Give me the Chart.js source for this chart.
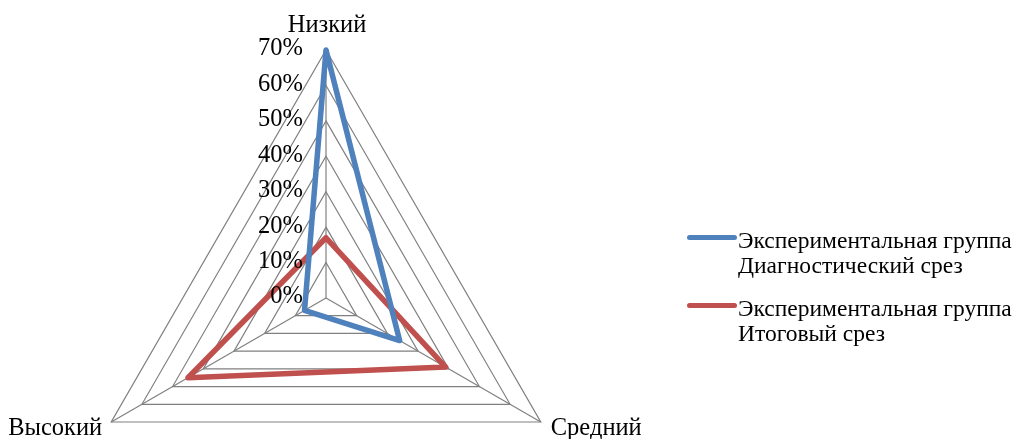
<!DOCTYPE html>
<html>
<head>
<meta charset="utf-8">
<script src="https://cdn.jsdelivr.net/npm/chart.js@4/dist/chart.umd.min.js"></script>
<style>
html,body{margin:0;padding:0;background:#fff;overflow:hidden;}
#wrap{position:relative;width:1021px;height:439px;overflow:hidden;background:#fff;}
#c{position:absolute;left:0;top:0;}
.item{position:absolute;left:687px;font-family:"Liberation Serif","Times New Roman",serif;font-size:23.5px;line-height:25px;color:#000;white-space:nowrap;}
.sw{position:absolute;left:0;top:7px;width:50px;height:5px;border-radius:3px;}
.txt{position:absolute;left:51px;top:0;}
</style>
</head>
<body>
<div id="wrap">
<canvas id="c" width="1021" height="600"></canvas>
</div>
<script>
const categories = ['Низкий', 'Средний', 'Высокий'];
const diagnostic = [70, 24, 7];
const finalCut = [17, 39, 45];
const seriesNames = [
  ['Экспериментальная группа', 'Диагностический срез'],
  ['Экспериментальная группа', 'Итоговый срез']
];
const seriesColors = ['#4F81BD', '#C0504D'];
const tickValues = [0, 10, 20, 30, 40, 50, 60, 70];
const tickLabels = ['0%', '10%', '20%', '30%', '40%', '50%', '60%', '70%'];

const FONT = '24.5px "Liberation Serif", "Times New Roman", serif';

const labelPlugin = {
  id: 'customLabels',
  afterDraw(chart) {
    const s = chart.scales.r;
    const ctx = chart.ctx;
    ctx.save();
    ctx.font = FONT;
    ctx.fillStyle = '#000';
    // tick labels
    ctx.textAlign = 'right';
    ctx.textBaseline = 'middle';
    tickValues.forEach((v, i) => {
      const d = s.getDistanceFromCenterForValue(v);
      ctx.fillText(tickLabels[i], s.xCenter - 23, s.yCenter - d - 1);
    });
    // point labels
    ctx.textBaseline = 'alphabetic';
    categories.forEach((c, i) => {
      const p = s.getPointPosition(i, s.drawingArea);
      if (i === 0) {
        ctx.textAlign = 'center';
        ctx.fillText(c, p.x + 1, p.y - 18);
      } else if (p.x > s.xCenter) {
        ctx.textAlign = 'left';
        ctx.fillText(c, p.x + 10, p.y + 13);
      } else {
        ctx.textAlign = 'right';
        ctx.fillText(c, p.x - 9, p.y + 13);
      }
    });
    ctx.restore();
  }
};

new Chart(document.getElementById('c'), {
  type: 'radar',
  data: {
    labels: categories,
    datasets: [
      { label: seriesNames[0].join(' '), data: diagnostic, borderColor: seriesColors[0], backgroundColor: seriesColors[0] },
      { label: seriesNames[1].join(' '), data: finalCut, borderColor: seriesColors[1], backgroundColor: seriesColors[1] }
    ]
  },
  options: {
    responsive: false,
    devicePixelRatio: 1,
    animation: false,
    layout: { padding: { left: 78, top: 50, right: 447, bottom: 54 } },
    elements: {
      line: { borderWidth: 5.5, fill: false, tension: 0, borderJoinStyle: 'round' },
      point: { radius: 0, hoverRadius: 0 }
    },
    plugins: { legend: { display: false }, tooltip: { enabled: false } },
    scales: {
      r: {
        min: 0, max: 70,
        ticks: { stepSize: 10, display: false },
        grid: { color: '#808080', lineWidth: 1.2 },
        angleLines: { color: '#808080', lineWidth: 1.2 },
        pointLabels: { display: false }
      }
    }
  },
  plugins: [labelPlugin]
});

// legend
const wrap = document.getElementById('wrap');
const legendTops = [228, 296];
seriesNames.forEach((lines, i) => {
  const it = document.createElement('div');
  it.className = 'item';
  it.style.top = legendTops[i] + 'px';
  const sw = document.createElement('div');
  sw.className = 'sw';
  sw.style.background = seriesColors[i];
  const tx = document.createElement('div');
  tx.className = 'txt';
  tx.innerHTML = lines.join('<br>');
  it.appendChild(sw); it.appendChild(tx);
  wrap.appendChild(it);
});
</script>
</body>
</html>
